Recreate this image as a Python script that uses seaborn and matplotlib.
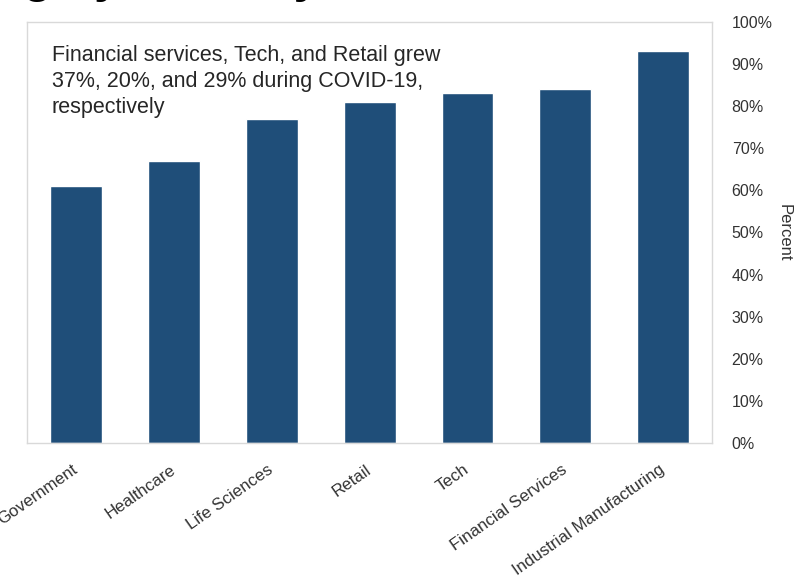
import matplotlib.pyplot as plt
import pandas as pd
import seaborn as sns

industries = ["Government", "Healthcare", "Life Sciences", "Retail", "Tech",
              "Financial Services", "Industrial Manufacturing"]
percent = [61, 67, 77, 81, 83, 84, 93]
y_ticks = [0, 10, 20, 30, 40, 50, 60, 70, 80, 90, 100]

df = pd.DataFrame({"industry": industries, "percent": percent})

sns.set_style("white")
plt.rcParams["font.family"] = ["Liberation Sans", "DejaVu Sans"]

fig = plt.figure(figsize=(7.94, 5.81), dpi=100)
ax = fig.add_axes([0.034, 0.2375, 0.863, 0.725])

sns.barplot(data=df, x="industry", y="percent", color="#1f4e79",
            saturation=1, width=0.53, ax=ax)

ax.set_xlim(-0.5, 6.5)
ax.set_ylim(0, 100)
ax.yaxis.tick_right()
ax.yaxis.set_label_position("right")
ax.set_yticks(y_ticks)
ax.set_yticklabels([f"{v}%" for v in y_ticks], fontsize=11.5, color="#333333")
ax.tick_params(axis="y", length=0, pad=14)
ax.tick_params(axis="x", length=0, pad=18)
ax.set_xticks(range(len(industries)))
ax.set_xticklabels(industries, rotation=35, ha="right", va="center",
                   rotation_mode="anchor", fontsize=12.2, color="#333333")
ax.set_xlabel("")
ax.set_ylabel("Percent", rotation=270, fontsize=12, color="#333333", labelpad=14)

for s in ax.spines.values():
    s.set_visible(True)
    s.set_color("#d9d9d9")
    s.set_linewidth(1)

ax.text(0.036, 0.945,
        "Financial services, Tech, and Retail grew\n37%, 20%, and 29% during COVID-19,\nrespectively",
        transform=ax.transAxes, ha="left", va="top", fontsize=15.5,
        color="#262626", linespacing=1.3)

# slide title, cropped off the top (and left) of the image: only descenders show
fig.text(-0.39, 1 + 8 / 581, "Cloud Spending by Industry", ha="left", va="baseline",
         fontsize=34, fontweight="bold", color="black")

fig.savefig("out.png", dpi=100)
